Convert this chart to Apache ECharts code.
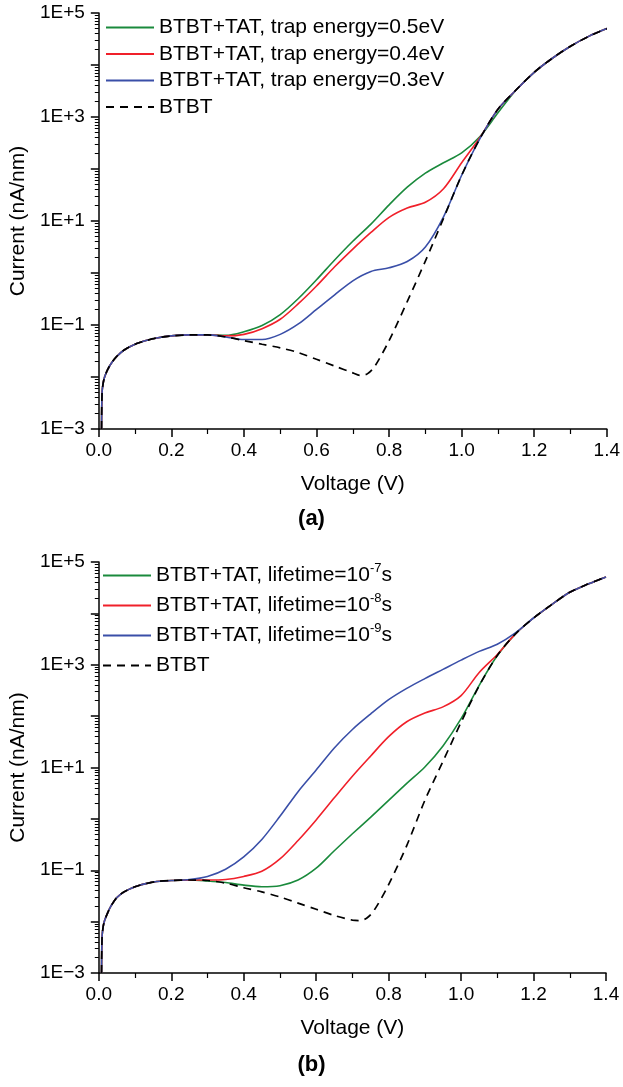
<!DOCTYPE html>
<html>
<head>
<meta charset="utf-8">
<script src="https://cdn.jsdelivr.net/npm/echarts@6/dist/echarts.min.js"></script>
<style>
html,body{margin:0;padding:0;background:#ffffff;}
#chart{width:623px;height:1087px;}
</style>
</head>
<body>
<div id="chart"></div>
<script>
// ---------- DATA (currents stored as log10 of nA/nm) ----------
const voltageTat  = [0.0075, 0.009, 0.012, 0.016, 0.025, 0.035, 0.05, 0.07, 0.1, 0.13, 0.16, 0.2, 0.25, 0.3, 0.35, 0.4, 0.45, 0.5, 0.55, 0.6, 0.65, 0.7, 0.75, 0.8, 0.85, 0.9, 0.95, 1.0, 1.05, 1.1, 1.15, 1.2, 1.25, 1.3, 1.35, 1.4];
const voltageBtbt = [0.0075, 0.009, 0.012, 0.016, 0.025, 0.035, 0.05, 0.07, 0.1, 0.13, 0.16, 0.2, 0.25, 0.3, 0.35, 0.4, 0.45, 0.5, 0.55, 0.6, 0.65, 0.7, 0.72, 0.74, 0.76, 0.8, 0.85, 0.9, 0.95, 1.0, 1.05, 1.1, 1.15, 1.2, 1.25, 1.3, 1.35, 1.4];

// panel (a): trap energy
const a_trap05_log10 = [-3.0, -2.3, -2.12, -2.0, -1.85, -1.73, -1.6, -1.48, -1.37, -1.3, -1.25, -1.21, -1.19, -1.19, -1.20, -1.13, -1.01, -0.80, -0.49, -0.13, 0.25, 0.61, 0.94, 1.31, 1.65, 1.92, 2.12, 2.31, 2.62, 3.08, 3.52, 3.86, 4.13, 4.36, 4.55, 4.70];
const a_trap04_log10 = [-3.0, -2.3, -2.12, -2.0, -1.85, -1.73, -1.6, -1.48, -1.37, -1.3, -1.25, -1.21, -1.19, -1.19, -1.21, -1.18, -1.07, -0.89, -0.59, -0.25, 0.12, 0.46, 0.78, 1.07, 1.25, 1.36, 1.62, 2.12, 2.60, 3.15, 3.52, 3.86, 4.13, 4.36, 4.55, 4.70];
const a_trap03_log10 = [-3.0, -2.3, -2.12, -2.0, -1.85, -1.73, -1.6, -1.48, -1.37, -1.3, -1.25, -1.21, -1.19, -1.19, -1.23, -1.28, -1.28, -1.18, -0.98, -0.70, -0.42, -0.15, 0.03, 0.10, 0.22, 0.50, 1.08, 1.88, 2.58, 3.15, 3.52, 3.86, 4.13, 4.36, 4.55, 4.70];
const a_btbt_log10   = [-3.0, -2.3, -2.12, -2.0, -1.85, -1.73, -1.6, -1.48, -1.37, -1.3, -1.25, -1.21, -1.19, -1.19, -1.23, -1.30, -1.37, -1.44, -1.53, -1.66, -1.79, -1.92, -1.97, -1.94, -1.80, -1.30, -0.55, 0.23, 1.05, 1.88, 2.58, 3.15, 3.52, 3.86, 4.13, 4.36, 4.55, 4.70];

// panel (b): lifetime
const b_life7_log10 = [-3.0, -2.3, -2.1, -1.98, -1.82, -1.68, -1.53, -1.42, -1.32, -1.26, -1.22, -1.2, -1.19, -1.21, -1.24, -1.29, -1.32, -1.30, -1.19, -0.96, -0.62, -0.29, 0.03, 0.36, 0.69, 1.01, 1.42, 1.95, 2.60, 3.18, 3.60, 3.91, 4.17, 4.41, 4.57, 4.71];
const b_life8_log10 = [-3.0, -2.3, -2.1, -1.98, -1.82, -1.68, -1.53, -1.42, -1.32, -1.26, -1.22, -1.2, -1.19, -1.19, -1.18, -1.12, -1.02, -0.78, -0.42, -0.02, 0.41, 0.83, 1.22, 1.60, 1.89, 2.06, 2.18, 2.40, 2.85, 3.20, 3.60, 3.91, 4.17, 4.41, 4.57, 4.71];
const b_life9_log10 = [-3.0, -2.3, -2.1, -1.98, -1.82, -1.68, -1.53, -1.42, -1.32, -1.26, -1.22, -1.2, -1.18, -1.12, -0.98, -0.74, -0.40, 0.05, 0.53, 0.95, 1.38, 1.74, 2.04, 2.32, 2.54, 2.73, 2.91, 3.09, 3.26, 3.40, 3.62, 3.91, 4.17, 4.41, 4.57, 4.71];
const b_btbt_log10  = [-3.0, -2.3, -2.1, -1.98, -1.82, -1.68, -1.53, -1.42, -1.32, -1.26, -1.22, -1.2, -1.19, -1.2, -1.25, -1.34, -1.42, -1.52, -1.64, -1.76, -1.88, -1.97, -1.98, -1.93, -1.78, -1.28, -0.52, 0.36, 1.12, 1.88, 2.59, 3.18, 3.60, 3.91, 4.17, 4.41, 4.57, 4.71];

// names / labels
const namesA = ['BTBT+TAT, trap energy=0.5eV', 'BTBT+TAT, trap energy=0.4eV', 'BTBT+TAT, trap energy=0.3eV', 'BTBT'];
const namesB = ['BTBT+TAT, lifetime=10-7s', 'BTBT+TAT, lifetime=10-8s', 'BTBT+TAT, lifetime=10-9s', 'BTBT'];
const lifetimeExps = ['-7', '-8', '-9'];
const panelLabels = ['(a)', '(b)'];
const xAxisTitle = 'Voltage (V)';
const yAxisTitle = 'Current (nA/nm)';
const yMin = 1e-3, yMax = 1e5;
const yDecadeMin = -3, yDecadeMax = 5;
const minorMultipliers = [2, 3, 4, 5, 6, 7, 8, 9];
const xMin = 0, xMax = 1.4, xStep = 0.2;

// ---------- CHART ----------
const FONT = 'Liberation Sans, Arial, sans-serif';
const colors = ['#1a8a3c', '#f0202a', '#3a4fa8', '#000000'];

function toPairs(xs, arr) { return xs.map((v, i) => [v, Math.pow(10, arr[i])]); }
function yLabel(v) {
  const e = Math.round(Math.log10(v));
  if (Math.abs(e % 2) === 0) return '';
  return '1E' + (e >= 0 ? '+' : '\u2212') + Math.abs(e);
}
// positions of log minor ticks (2..9 x 10^k), expressed in decades
const minorTickDecades = [];
for (let k = yDecadeMin; k < yDecadeMax; k++) {
  minorMultipliers.forEach(m => minorTickDecades.push(k + Math.log10(m)));
}

function makeX(gi) {
  return {
    type: 'value', gridIndex: gi, min: xMin, max: xMax, interval: xStep,
    name: xAxisTitle, nameLocation: 'middle', nameGap: 45,
    nameTextStyle: { fontSize: 21, fontFamily: FONT, color: '#000' },
    axisLine: { show: true, onZero: false, lineStyle: { color: '#000', width: 1.5 } },
    axisTick: { show: true, length: 8, lineStyle: { color: '#000', width: 1.5 } },
    minorTick: { show: true, splitNumber: 2, length: 5, lineStyle: { color: '#000', width: 1.2 } },
    axisLabel: { fontSize: 19, fontFamily: FONT, color: '#000', margin: 12, formatter: v => v.toFixed(1) },
    splitLine: { show: false }, minorSplitLine: { show: false }
  };
}
function makeY(gi) {
  return {
    type: 'log', logBase: 10, gridIndex: gi, min: yMin, max: yMax, interval: 1,
    name: yAxisTitle, nameLocation: 'middle', nameGap: 63,
    nameTextStyle: { fontSize: 21, fontFamily: FONT, color: '#000' },
    axisLine: { show: true, onZero: false, lineStyle: { color: '#000', width: 1.5 } },
    axisTick: { show: true, length: 8, lineStyle: { color: '#000', width: 1.5 } },
    axisLabel: { fontSize: 19, fontFamily: FONT, color: '#000', margin: 14, formatter: yLabel, showMinLabel: true, showMaxLabel: true },
    splitLine: { show: false }, minorSplitLine: { show: false }
  };
}
// decoration axis carrying the log minor ticks (same decades range as the log axis)
function makeYMinor(gi) {
  return {
    type: 'value', gridIndex: gi, min: yDecadeMin, max: yDecadeMax, position: 'left', offset: 0,
    axisLine: { show: false, onZero: false },
    axisTick: { show: true, length: 4, customValues: minorTickDecades, lineStyle: { color: '#000', width: 1 } },
    axisLabel: { show: false },
    splitLine: { show: false }
  };
}
function line(name, gi, xs, arr, color, dashed) {
  return {
    type: 'line', name: name, xAxisIndex: gi, yAxisIndex: gi,
    data: toPairs(xs, arr), showSymbol: false, symbol: 'none', smooth: 0.3,
    lineStyle: { color: color, width: dashed ? 1.7 : 1.6, type: dashed ? [8, 6] : 'solid' },
    itemStyle: { color: color }, animation: false, z: dashed ? 5 : 3
  };
}

const legendB = {};
namesB.forEach((n, i) => {
  legendB[n] = i < 3 ? 'BTBT+TAT, lifetime=10{sup|' + lifetimeExps[i] + '}s' : n;
});

const option = {
  animation: false,
  backgroundColor: '#ffffff',
  grid: [
    { left: 94, top: 13, width: 515, height: 416, show: false },
    { left: 93, top: 562, width: 513, height: 411, show: false }
  ],
  title: [
    { text: panelLabels[0], left: 'center', top: 503, textStyle: { fontSize: 22, fontWeight: 'bold', fontFamily: FONT, color: '#000' } },
    { text: panelLabels[1], left: 'center', top: 1049, textStyle: { fontSize: 22, fontWeight: 'bold', fontFamily: FONT, color: '#000' } }
  ],
  legend: [
    {
      data: namesA, orient: 'vertical', left: 100, top: 12, itemWidth: 48, itemHeight: 14, itemGap: 5.5,
      selectedMode: false, itemStyle: { opacity: 0 },
      textStyle: { fontSize: 21, fontFamily: FONT, color: '#000' }
    },
    {
      data: namesB, orient: 'vertical', left: 97, top: 557, itemWidth: 48, itemHeight: 14, itemGap: 3,
      selectedMode: false, itemStyle: { opacity: 0 }, formatter: n => legendB[n],
      textStyle: {
        fontSize: 21, lineHeight: 27, fontFamily: FONT, color: '#000',
        rich: { sup: { fontSize: 13, lineHeight: 14, verticalAlign: 'top', fontFamily: FONT, color: '#000' } }
      }
    }
  ],
  xAxis: [makeX(0), makeX(1)],
  yAxis: [makeY(0), makeY(1), makeYMinor(0), makeYMinor(1)],
  series: [
    line(namesA[0], 0, voltageTat, a_trap05_log10, colors[0], false),
    line(namesA[1], 0, voltageTat, a_trap04_log10, colors[1], false),
    line(namesA[2], 0, voltageTat, a_trap03_log10, colors[2], false),
    line(namesA[3], 0, voltageBtbt, a_btbt_log10, colors[3], true),
    line(namesB[0], 1, voltageTat, b_life7_log10, colors[0], false),
    line(namesB[1], 1, voltageTat, b_life8_log10, colors[1], false),
    line(namesB[2], 1, voltageTat, b_life9_log10, colors[2], false),
    line(namesB[3], 1, voltageBtbt, b_btbt_log10, colors[3], true)
  ]
};

const chart = echarts.init(document.getElementById('chart'), null, { renderer: 'canvas' });
chart.setOption(option);
</script>
</body>
</html>
